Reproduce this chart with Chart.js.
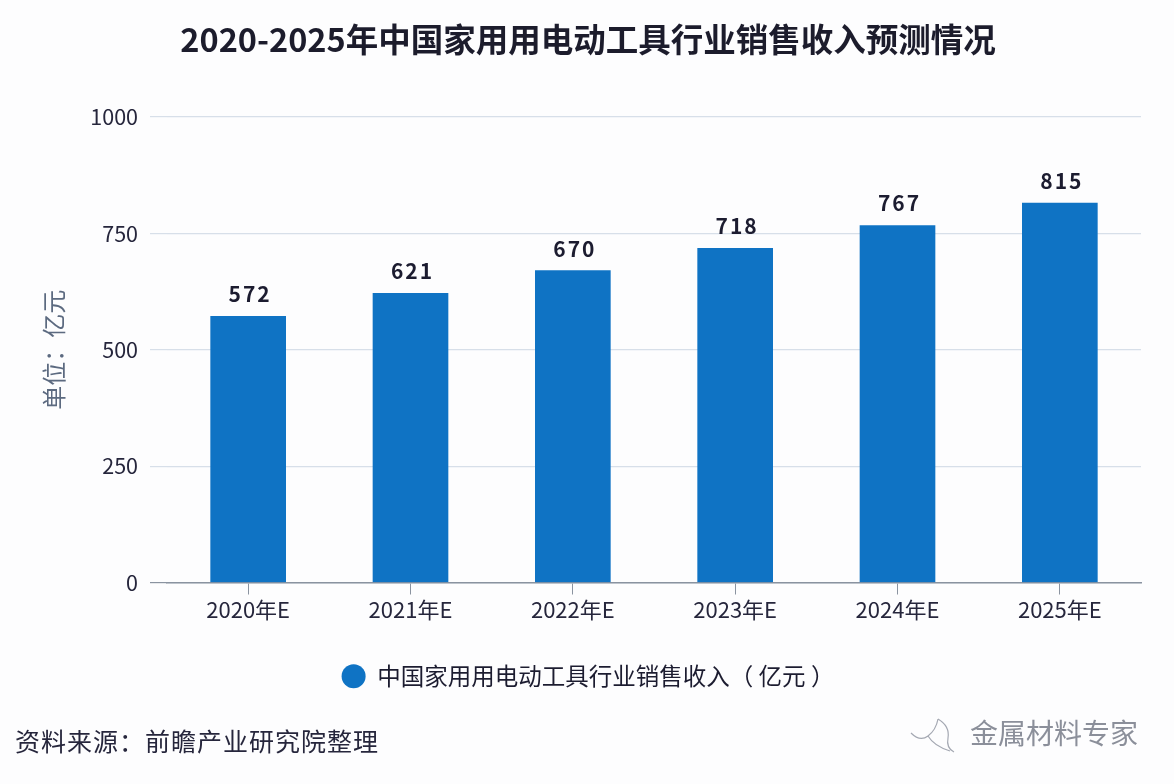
<!DOCTYPE html>
<html lang="zh">
<head>
<meta charset="utf-8">
<title>2020-2025年中国家用用电动工具行业销售收入预测情况</title>
<script src="https://cdn.jsdelivr.net/npm/chart.js@4/dist/chart.umd.min.js"></script>
<style>
  html, body { margin: 0; padding: 0; background: #fdfdfe; }
  #wrap { position: relative; width: 1174px; height: 784px; overflow: hidden; }
  #wrap canvas { position: absolute; left: 0; top: 0; }
  .note { position: absolute; font-family: "Noto Sans CJK SC", sans-serif; white-space: nowrap; }
  #source { left: 15px; top: 720px; font-size: 25px; line-height: 40px; letter-spacing: 1px; color: #26263c; }
  #mark { left: 970px; top: 712px; font-size: 28px; line-height: 40px; color: #8b8f9a; }
  #markIcon { position: absolute; left: 908px; top: 716px; }
</style>
</head>
<body>
<div id="wrap">
  <canvas id="revenueChart" width="1174" height="784"></canvas>
  <div id="source" class="note">资料来源：前瞻产业研究院整理</div>
  <svg id="markIcon" width="48" height="40" viewBox="0 0 48 40" fill="none" stroke="#a4a8b2" stroke-width="1.2">
    <path d="M3 17 Q12 26 20 20 Q28 14 30 3 M30 3 Q42 10 40 22 Q38 32 46 36 M20 20 Q26 30 42 35"/>
  </svg>
  <div id="mark" class="note">金属材料专家</div>
</div>
<script>
const FONT = '"Noto Sans CJK SC", sans-serif';

const chartTitle = "2020-2025年中国家用用电动工具行业销售收入预测情况";
const seriesName = "中国家用用电动工具行业销售收入（ 亿元 ）";
const yTitle = "单位：亿元";
const years = ["2020年E", "2021年E", "2022年E", "2023年E", "2024年E", "2025年E"];
const revenue = [572, 621, 670, 718, 767, 815];
const yTicks = [0, 250, 500, 750, 1000];

// value labels above the bars
const barLabelPlugin = {
  id: "barLabels",
  afterDatasetsDraw(chart) {
    const { ctx } = chart;
    const bars = chart.getDatasetMeta(0).data;
    ctx.save();
    ctx.font = `bold 21px ${FONT}`;
    ctx.letterSpacing = "2px";
    ctx.fillStyle = "#1c1c30";
    ctx.textAlign = "center";
    ctx.textBaseline = "middle";
    bars.forEach((bar, i) => {
      ctx.fillText(String(revenue[i]), bar.x + 2, bar.y - 22);
    });
    ctx.restore();
  },
};

new Chart(document.getElementById("revenueChart"), {
  type: "bar",
  data: {
    labels: years,
    datasets: [
      {
        label: seriesName,
        data: revenue,
        backgroundColor: "#0f73c4",
        borderColor: "#0f73c4",
        borderWidth: 0,
        barThickness: 75,
      },
    ],
  },
  plugins: [barLabelPlugin],
  options: {
    responsive: false,
    animation: false,
    layout: {
      autoPadding: false,
      padding: { left: 35, right: 33, top: 0, bottom: 86 },
    },
    plugins: {
      title: {
        display: true,
        text: chartTitle,
        color: "#1c1c2c",
        font: { family: FONT, size: 32.5, weight: "bold", lineHeight: 1.2 },
        padding: { top: 20, bottom: 58 },
      },
      legend: {
        position: "bottom",
        labels: {
          usePointStyle: true,
          pointStyle: "circle",
          boxHeight: 17,
          pointStyleWidth: 24,
          color: "#1c1c30",
          font: { family: FONT, size: 23.5 },
          padding: 10,
        },
      },
      tooltip: { enabled: false },
    },
    scales: {
      x: {
        afterFit: (scale) => {
          scale.height = 72;
        },
        border: { color: "#8a93a0", width: 1.5 },
        grid: {
          offset: false,
          drawOnChartArea: false,
          drawTicks: true,
          tickLength: 12,
          tickColor: "#8a93a0",
        },
        ticks: {
          color: "#26263c",
          font: { family: FONT, size: 22 },
          padding: 2,
          maxRotation: 0,
        },
      },
      y: {
        min: 0,
        max: 1000,
        afterBuildTicks: (scale) => {
          scale.ticks = yTicks.map((value) => ({ value }));
        },
        afterFit: (scale) => {
          scale.width = 132;
        },
        border: { display: false },
        grid: {
          color: "#d7dfe9",
          lineWidth: 1.2,
          drawTicks: true,
          tickLength: 17,
          tickColor: (c) => (c.tick.value === 0 ? "#8a93a0" : "#d7dfe9"),
        },
        ticks: {
          color: "#26263c",
          font: { family: FONT, size: 21.5 },
          padding: 12,
          callback: (v) => String(v),
        },
        title: {
          display: true,
          text: yTitle,
          color: "#5c6a80",
          font: { family: FONT, size: 24 },
          padding: { top: 4, bottom: 0 },
        },
      },
    },
  },
});
</script>
</body>
</html>
